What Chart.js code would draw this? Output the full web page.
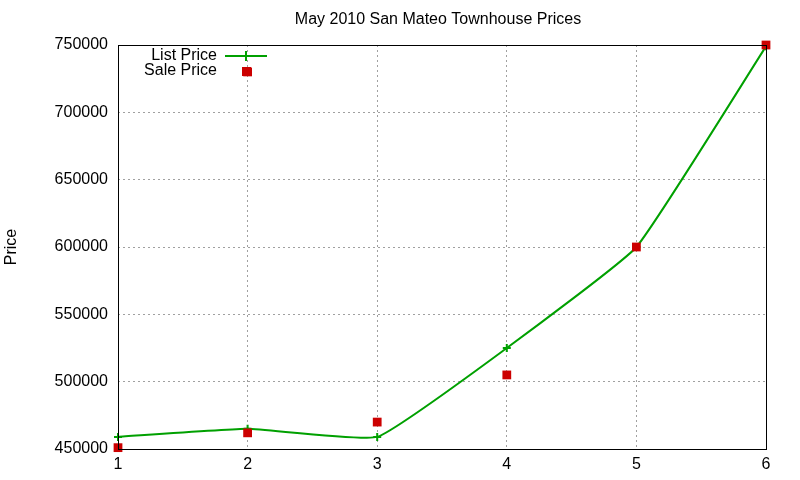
<!DOCTYPE html>
<html>
<head>
<meta charset="utf-8">
<script src="https://cdn.jsdelivr.net/npm/chart.js@4/dist/chart.umd.min.js"></script>
<style>
  html, body { margin: 0; padding: 0; background: #fff; }
  #wrap { width: 800px; height: 480px; }
</style>
</head>
<body>
<div id="wrap"><canvas id="myChart" width="800" height="480"></canvas></div>
<script>
// data
var listX = [1, 2, 3, 4, 5, 6];
var listPrice = [459000, 465000, 459000, 525000, 600000, 749000];
var saleX = [1, 2, 2, 3, 4, 5, 6];
var salePrice = [451000, 462000, 730000, 470000, 505000, 600000, 750000];
var xTicks = [1, 2, 3, 4, 5, 6];
var yTicks = [450000, 500000, 550000, 600000, 650000, 700000, 750000];

var green = '#00a000';
var red = '#cc0000';
var fontFam = '"Liberation Sans", Arial, sans-serif';

function pairs(xs, ys) {
  var out = [];
  for (var i = 0; i < xs.length; i++) out.push({x: xs[i], y: ys[i]});
  return out;
}

// frame, title + legend, gnuplot style
var framePlugin = {
  id: 'frame',
  afterDraw: function(chart) {
    var ctx = chart.ctx, a = chart.chartArea;
    ctx.save();
    ctx.strokeStyle = '#000';
    ctx.lineWidth = 1;
    ctx.strokeRect(Math.round(a.left) + 0.5, Math.round(a.top) + 0.5,
                   Math.round(a.right - a.left), Math.round(a.bottom - a.top));

    ctx.font = '16px ' + fontFam;
    ctx.fillStyle = '#000';
    ctx.textBaseline = 'middle';
    ctx.textAlign = 'center';
    ctx.fillText('May 2010 San Mateo Townhouse Prices', 438, 20);

    // legend top left
    ctx.textAlign = 'right';
    ctx.fillText('List Price', 217, 56);
    ctx.fillText('Sale Price', 217, 71);
    ctx.strokeStyle = green;
    ctx.lineWidth = 2;
    ctx.beginPath();
    ctx.moveTo(225, 56); ctx.lineTo(267, 56);
    ctx.moveTo(246, 51); ctx.lineTo(246, 61);
    ctx.stroke();
    ctx.fillStyle = red;
    ctx.fillRect(242, 67, 9, 9);
    ctx.restore();
  }
};

var ctx = document.getElementById('myChart');
var chart = new Chart(ctx, {
  type: 'scatter',
  data: {
    datasets: [{
      label: 'List Price',
      order: 1,
      data: pairs(listX, listPrice),
      showLine: true,
      borderColor: green,
      backgroundColor: green,
      borderWidth: 2,
      tension: 0.12,
      pointStyle: 'cross',
      pointRadius: 4,
      pointBorderWidth: 2,
      pointBorderColor: green,
      clip: false
    }, {
      label: 'Sale Price',
      order: 0,
      data: pairs(saleX, salePrice),
      showLine: false,
      pointStyle: 'rect',
      pointRadius: 6.2,
      pointBorderWidth: 0,
      backgroundColor: red,
      borderColor: red,
      clip: false
    }]
  },
  options: {
    responsive: false,
    animation: false,
    layout: { padding: { left: 0, right: 34, top: 45, bottom: 0 } },
    plugins: {
      legend: { display: false },
      tooltip: { enabled: false },
      title: { display: false }
    },
    scales: {
      x: {
        type: 'linear',
        min: 1, max: 6,
        afterBuildTicks: function(scale) {
          scale.ticks = xTicks.map(function(v) { return {value: v}; });
        },
        afterFit: function(scale) { scale.height = 31; },
        ticks: { color: '#000', padding: 6, font: { family: fontFam, size: 16 } },
        grid: { color: '#a0a0a0', drawTicks: false, lineWidth: 1 },
        border: { display: false, dash: [2, 3] }
      },
      y: {
        min: 450000, max: 750000,
        afterBuildTicks: function(scale) {
          scale.ticks = yTicks.map(function(v) { return {value: v}; });
        },
        afterFit: function(scale) { scale.width = 118; },
        ticks: {
          color: '#000', padding: 10,
          font: { family: fontFam, size: 16 },
          callback: function(v) { return String(v); }
        },
        grid: { color: '#a0a0a0', drawTicks: false, lineWidth: 1 },
        border: { display: false, dash: [2, 3] },
        title: {
          display: true,
          text: 'Price',
          color: '#000',
          font: { family: fontFam, size: 16 },
          padding: { top: 2, bottom: 0 }
        }
      }
    }
  },
  plugins: [framePlugin]
});
</script>
</body>
</html>
